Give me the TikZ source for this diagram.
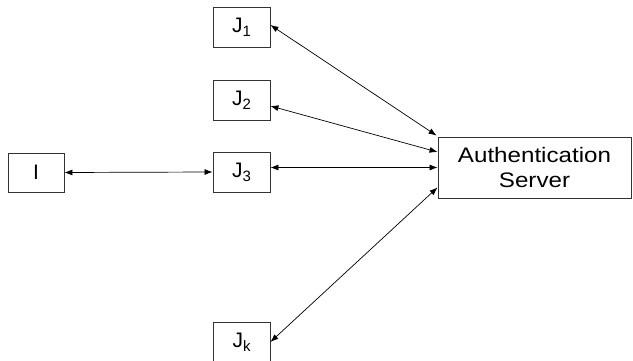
\documentclass[tikz,border=0pt]{standalone}
\usepackage{fontspec}
\setmainfont{Liberation Sans}
\newfontfamily\authfont{Liberation Sans}[FakeStretch=1.15]
\usetikzlibrary{arrows.meta}
\newcommand{\subidx}[1]{\raisebox{-0.18em}{\fontsize{15}{15}\selectfont #1}}
\begin{document}
\begin{tikzpicture}[x=1pt,y=-1pt,
  box/.style={draw=black!80,line width=0.9pt,minimum width=57pt,minimum height=40pt,inner sep=0pt,font=\fontsize{21}{23}\selectfont},
  link/.style={line width=0.7pt,{Latex[length=8pt,width=6pt]}-{Latex[length=8pt,width=6pt]}}]
\useasboundingbox (0,0) rectangle (633,361);
\node[box] (J1) at (241.5,27) {J\subidx{1}};
\node[box] (J2) at (241.5,100) {J\subidx{2}};
\node[box] (J3) at (241.5,172) {J\subidx{3}};
\node[box] (Jk) at (241.5,342) {J\subidx{k}};
\node[box,minimum width=56pt,minimum height=39pt] (I) at (36,172.5) {I};
\node[box,minimum width=193pt,minimum height=61pt,align=center,font=\authfont\fontsize{21}{25}\selectfont] (A) at (534.5,167.5) {Authentication\\Server};
\draw[link] (I.east) -- (J3.west);
\draw[link] ([yshift=2pt]J1.east) -- ([xshift=-1pt,yshift=1pt]A.north west);
\draw[link] ([yshift=-6pt]J2.east) -- ([yshift=15.5pt]A.west);
\draw[link] (J3.east |- A.west) -- (A.west);
\draw[link] (Jk.east) -- ([yshift=11pt]A.south west);
\end{tikzpicture}
\end{document}
